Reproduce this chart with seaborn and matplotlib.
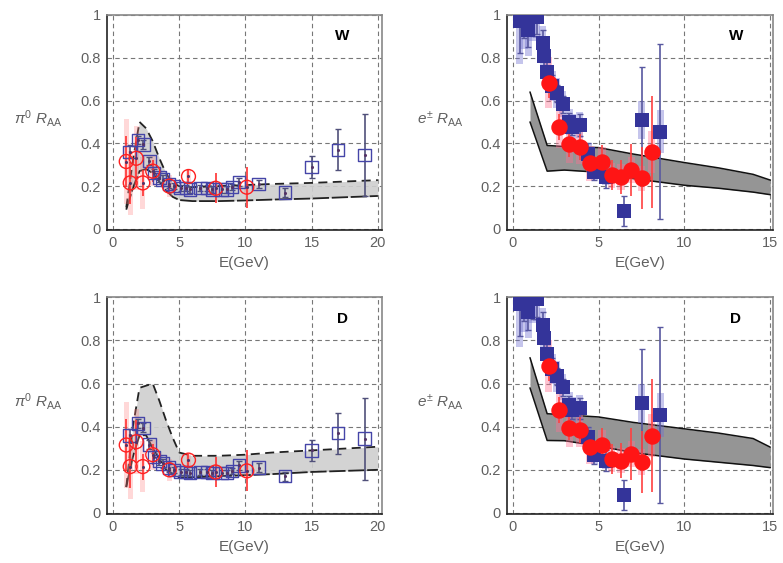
import seaborn as sns
import matplotlib.pyplot as plt
import numpy as np

# pi0 data (same in W and D panels)
pi_phx_x = [1.25, 1.9, 2.3, 2.75, 3.1, 3.5, 3.75, 4.25, 4.6, 5.1, 5.5, 5.8, 6.6, 7.1, 7.5, 8.2, 8.6, 9.0, 9.5, 11.0, 13.0, 15.0, 17.0, 19.0]
pi_phx_y = [0.36, 0.415, 0.395, 0.317, 0.26, 0.24, 0.23, 0.21, 0.20, 0.19, 0.19, 0.185, 0.19, 0.19, 0.185, 0.185, 0.185, 0.195, 0.22, 0.21, 0.17, 0.29, 0.37, 0.345]
pi_phx_err = [0.03, 0.02, 0.02, 0.02, 0.02, 0.02, 0.02, 0.02, 0.015, 0.015, 0.015, 0.015, 0.015, 0.015, 0.015, 0.015, 0.015, 0.015, 0.02, 0.02, 0.02, 0.05, 0.095, 0.19]
pi_red_x = [1.0, 1.3, 1.75, 2.25, 3.0, 4.25, 5.7, 7.75, 10.1]
pi_red_y = [0.315, 0.215, 0.33, 0.215, 0.27, 0.20, 0.245, 0.19, 0.195]
pi_red_err = [0.12, 0.10, 0.10, 0.06, 0.05, 0.03, 0.03, 0.07, 0.095]
pi_red_sys = [0.20, 0.15, 0.15, 0.12, 0.07, 0.05, 0.03, 0.03, 0.03]

# pi0 model bands
pi_band_x = [1.0, 1.5, 2.0, 2.5, 3.0, 3.5, 4.0, 4.5, 5.0, 6.0, 8.0, 10.0, 12.0, 15.0, 20.0]
pi_W_up = [0.10, 0.32, 0.50, 0.47, 0.41, 0.33, 0.26, 0.215, 0.20, 0.195, 0.20, 0.205, 0.21, 0.215, 0.228]
pi_W_lo = [0.09, 0.19, 0.27, 0.28, 0.26, 0.22, 0.18, 0.15, 0.135, 0.13, 0.13, 0.133, 0.137, 0.142, 0.154]
pi_D_up = [0.12, 0.40, 0.58, 0.59, 0.60, 0.52, 0.43, 0.35, 0.28, 0.265, 0.265, 0.27, 0.28, 0.29, 0.307]
pi_D_lo = [0.12, 0.26, 0.36, 0.36, 0.30, 0.25, 0.20, 0.18, 0.165, 0.165, 0.17, 0.175, 0.18, 0.19, 0.20]

# electron data
e_phx_x = [0.4, 0.65, 0.9, 1.15, 1.4, 1.75, 1.8, 2.0, 2.3, 2.55, 2.9, 3.3, 3.45, 3.9, 4.4, 4.75, 5.4, 6.45, 7.5, 8.6]
e_phx_y = [0.97, 0.99, 0.93, 1.0, 0.99, 0.87, 0.81, 0.735, 0.667, 0.633, 0.583, 0.50, 0.477, 0.485, 0.35, 0.267, 0.243, 0.084, 0.508, 0.454]
e_phx_err = [0.15, 0.10, 0.08, 0.10, 0.08, 0.06, 0.05, 0.05, 0.05, 0.04, 0.04, 0.04, 0.04, 0.05, 0.05, 0.04, 0.05, 0.07, 0.25, 0.41]
e_phx_sys = [0.20, 0.15, 0.12, 0.12, 0.10, 0.08, 0.08, 0.07, 0.07, 0.07, 0.06, 0.06, 0.06, 0.06, 0.05, 0.04, 0.04, 0.03, 0.09, 0.10]
e_red_x = [2.1, 2.7, 3.3, 3.9, 4.5, 5.2, 5.75, 6.3, 6.9, 7.5, 8.1]
e_red_y = [0.683, 0.477, 0.396, 0.384, 0.306, 0.314, 0.25, 0.243, 0.275, 0.236, 0.359]
e_red_err = [0.07, 0.06, 0.06, 0.06, 0.07, 0.08, 0.07, 0.08, 0.12, 0.145, 0.26]
e_red_sys = [0.12, 0.10, 0.09, 0.08, 0.08, 0.07, 0.06, 0.06, 0.06, 0.06, 0.10]

e_band_x = [1.0, 2.0, 3.0, 5.0, 7.0, 10.0, 12.0, 14.0, 15.0]
e_W_up = [0.64, 0.39, 0.385, 0.38, 0.35, 0.31, 0.285, 0.255, 0.228]
e_W_lo = [0.50, 0.27, 0.275, 0.265, 0.235, 0.204, 0.19, 0.172, 0.16]
e_D_up = [0.72, 0.46, 0.455, 0.445, 0.42, 0.39, 0.37, 0.345, 0.305]
e_D_lo = [0.58, 0.336, 0.335, 0.31, 0.28, 0.25, 0.235, 0.22, 0.21]

sns.set_theme(style="white")
plt.rcParams['font.family'] = ['Liberation Sans', 'DejaVu Sans']
plt.rcParams['mathtext.fontset'] = 'custom'
plt.rcParams['mathtext.it'] = 'Liberation Sans:italic'
plt.rcParams['mathtext.rm'] = 'Liberation Sans'

fig = plt.figure(figsize=(7.83, 5.63), dpi=100)
grey = '#606060'


def style_axes(ax, xmax, xlim, ylabel, tag, tagx):
    ax.set_xlim(*xlim)
    ax.set_ylim(-0.005, 1.0)
    ax.set_xticks(np.arange(0, xmax + 1, 5))
    ax.set_yticks([0, 0.2, 0.4, 0.6, 0.8, 1.0])
    ax.set_yticklabels(['0', '0.2', '0.4', '0.6', '0.8', '1'])
    ax.grid(True, ls=(0, (4, 3)), color='#777777', lw=0.8)
    ax.set_axisbelow(True)
    for s in ax.spines.values():
        s.set_color('#888888')
        s.set_linewidth(1.2)
    ax.spines['bottom'].set_color('#222222')
    ax.spines['left'].set_color('#222222')
    ax.tick_params(direction='inout', length=5, width=1, colors='#222222',
                   labelcolor=grey, labelsize=10.5, pad=2)
    ax.set_xlabel('E(GeV)', fontsize=11, color=grey, labelpad=4)
    ax.set_ylabel(ylabel, fontsize=11, color=grey, rotation=0)
    ax.yaxis.set_label_coords(-0.25, 0.47)
    ax.text(tagx, 0.9, tag, fontsize=11, fontweight='bold', color='black', ha='center', va='center')


def draw_pi(ax, up, lo, tag):
    ax.fill_between(pi_band_x, lo, up, color='#cfcfcf', alpha=0.9, lw=0, zorder=1)
    sns.lineplot(x=pi_band_x, y=up, ax=ax, color='#222222', lw=1.3, zorder=2).lines[-1].set_dashes((5, 3))
    sns.lineplot(x=pi_band_x, y=lo, ax=ax, color='#222222', lw=1.3, zorder=2).lines[-1].set_dashes((9, 1.5))
    ax.bar(pi_red_x, height=[2 * s for s in pi_red_sys], bottom=[y - s for y, s in zip(pi_red_y, pi_red_sys)],
           width=0.4, color='#ff8080', alpha=0.3, lw=0, zorder=2)
    ax.errorbar(pi_phx_x, pi_phx_y, yerr=pi_phx_err, fmt='none', ecolor='#50507a', elinewidth=1.2, capsize=2.5, zorder=3)
    ax.errorbar(pi_red_x, pi_red_y, yerr=pi_red_err, fmt='none', ecolor='#ff3030', elinewidth=1.2, zorder=3)
    sns.scatterplot(x=pi_phx_x, y=pi_phx_y, ax=ax, marker='s', s=80, facecolor='none',
                    edgecolor='#4545a8', linewidth=1.0, zorder=4)
    sns.scatterplot(x=pi_red_x, y=pi_red_y, ax=ax, marker='o', s=100, facecolor='none',
                    edgecolor='#ff2020', linewidth=1.0, zorder=4)
    sns.scatterplot(x=pi_phx_x + pi_red_x, y=pi_phx_y + pi_red_y, ax=ax, marker='o', s=5,
                    color='#553366', linewidth=0, zorder=5)
    style_axes(ax, 20, (-0.45, 20.3), r'$\pi^0\ R_{\mathrm{AA}}$', tag, 17.3)


def draw_e(ax, up, lo, tag):
    ax.fill_between(e_band_x, lo, up, color='#959595', lw=0, zorder=1)
    sns.lineplot(x=e_band_x, y=up, ax=ax, color='#111111', lw=1.1, zorder=2)
    sns.lineplot(x=e_band_x, y=lo, ax=ax, color='#111111', lw=1.1, zorder=2)
    ax.bar(e_phx_x, height=[2 * s for s in e_phx_sys], bottom=[y - s for y, s in zip(e_phx_y, e_phx_sys)],
           width=0.42, color='#6f6fd0', alpha=0.4, lw=0, zorder=2)
    ax.bar(e_red_x, height=[2 * s for s in e_red_sys], bottom=[y - s for y, s in zip(e_red_y, e_red_sys)],
           width=0.42, color='#ff7090', alpha=0.4, lw=0, zorder=2)
    ax.errorbar(e_phx_x, e_phx_y, yerr=e_phx_err, fmt='none', ecolor='#5858a0', elinewidth=1.2, capsize=2.5, zorder=3)
    ax.errorbar(e_red_x, e_red_y, yerr=e_red_err, fmt='none', ecolor='#ff4040', elinewidth=1.2, zorder=3)
    sns.scatterplot(x=e_phx_x, y=e_phx_y, ax=ax, marker='s', s=95, color='#34349a', linewidth=0, zorder=4)
    sns.scatterplot(x=e_red_x, y=e_red_y, ax=ax, marker='o', s=140, color='#ff1515', linewidth=0, zorder=5)
    style_axes(ax, 15, (-0.34, 15.17), r'$e^{\pm}\ R_{\mathrm{AA}}$', tag, 13.0)


ax1 = fig.add_axes([0.1367, 0.5915, 0.351, 0.382])
ax2 = fig.add_axes([0.6475, 0.5915, 0.340, 0.382])
ax3 = fig.add_axes([0.1367, 0.087, 0.351, 0.385])
ax4 = fig.add_axes([0.6475, 0.087, 0.340, 0.385])

draw_pi(ax1, pi_W_up, pi_W_lo, 'W')
draw_e(ax2, e_W_up, e_W_lo, 'W')
draw_pi(ax3, pi_D_up, pi_D_lo, 'D')
draw_e(ax4, e_D_up, e_D_lo, 'D')

fig.savefig('out.png', dpi=100)
